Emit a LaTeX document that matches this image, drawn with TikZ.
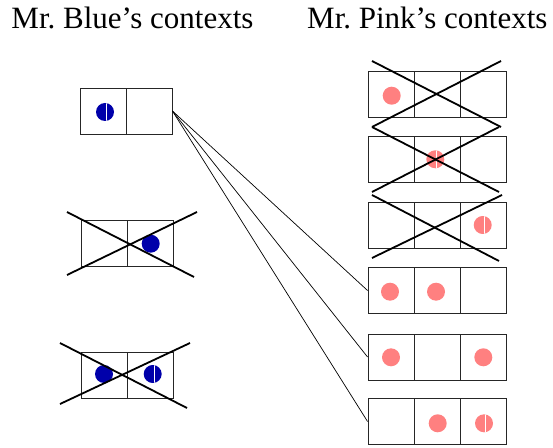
\documentclass[tikz,border=0pt]{standalone}
\usepackage{fontspec}
\setmainfont{Liberation Serif}
\usepackage{tikz}
\definecolor{mrblue}{RGB}{0,0,170}
\definecolor{mrpink}{RGB}{255,128,128}
\tikzset{
  cell/.style={draw=black!85, line width=0.9bp, minimum size=46bp, inner sep=0pt},
  bdot/.style={circle, fill=mrblue, minimum size=18bp, inner sep=0pt},
  pdot/.style={circle, fill=mrpink, minimum size=18bp, inner sep=0pt},
  half/.style={path picture={\draw[white, line width=1bp]
      ([xshift=1.3bp]path picture bounding box.north) --
      ([xshift=1.3bp]path picture bounding box.south);}},
  cross/.style={line width=1.8bp},
  link/.style={line width=0.7bp},
  title/.style={anchor=base west, inner sep=0pt, font=\fontsize{31bp}{36bp}\selectfont}
}
\frenchspacing
\begin{document}
\begin{tikzpicture}[x=1bp, y=-1bp]
    \useasboundingbox (0,0) rectangle (553,448);
    % titles
    \node[title] (tblue) at (11.3,29) {Mr. Blue’s contexts};
    \node[title] (tpink) at (307,29) {Mr. Pink’s contexts};
    % Mr. Blue
    \node[cell] (b1a) at (103,111) {};
    \node[cell] (b1b) at (149,111) {};
    \node[cell] (b2a) at (104,243.5) {};
    \node[cell] (b2b) at (150,243.5) {};
    \node[cell] (b3a) at (104,375.5) {};
    \node[cell] (b3b) at (150,375.5) {};
    \node[bdot, half] (db1) at (105,112) {};
    \node[bdot] (db2) at (150.7,243.7) {};
    \node[bdot] (db3) at (104,374) {};
    \node[bdot, half] (db4) at (152.7,374) {};
    % Mr. Pink
    \node[cell] (p1a) at (391,94) {};
    \node[cell] (p1b) at (437,94) {};
    \node[cell] (p1c) at (483,94) {};
    \node[cell] (p2a) at (391,159.5) {};
    \node[cell] (p2b) at (437,159.5) {};
    \node[cell] (p2c) at (483,159.5) {};
    \node[cell] (p3a) at (391,225) {};
    \node[cell] (p3b) at (437,225) {};
    \node[cell] (p3c) at (483,225) {};
    \node[cell] (p4a) at (391,290.5) {};
    \node[cell] (p4b) at (437,290.5) {};
    \node[cell] (p4c) at (483,290.5) {};
    \node[cell] (p5a) at (391,357) {};
    \node[cell] (p5b) at (437,357) {};
    \node[cell] (p5c) at (483,357) {};
    \node[cell] (p6a) at (391,421.5) {};
    \node[cell] (p6b) at (437,421.5) {};
    \node[cell] (p6c) at (483,421.5) {};
    \node[pdot] (dp1) at (391.7,95.7) {};
    \node[pdot, half] (dp2) at (435.3,159.3) {};
    \node[pdot, half] (dp3) at (482.7,225) {};
    \node[pdot] (dp4) at (390,291.7) {};
    \node[pdot] (dp5) at (436,291.7) {};
    \node[pdot] (dp6) at (391,357.3) {};
    \node[pdot] (dp7) at (483.3,357.3) {};
    \node[pdot] (dp8) at (437.7,423.3) {};
    \node[pdot, half] (dp9) at (484,423.3) {};
    % crossed out
    \draw[cross] (67,212) -- (194,277);
    \draw[cross] (67,275) -- (197,212);
    \draw[cross] (60,343) -- (187,408);
    \draw[cross] (60,404) -- (190,343);
    \draw[cross] (372,61) -- (501,127);
    \draw[cross] (372,127) -- (501,61);
    \draw[cross] (372,127) -- (499,192);
    \draw[cross] (372,192) -- (499,127);
    \draw[cross] (372,195) -- (499,261);
    \draw[cross] (372,258) -- (502,195);
    % links
    \draw[link] (b1b.east) -- (p4a.west);
    \draw[link] (b1b.east) -- (p5a.west);
    \draw[link] (b1b.east) -- (p6a.west);
\end{tikzpicture}
\end{document}
